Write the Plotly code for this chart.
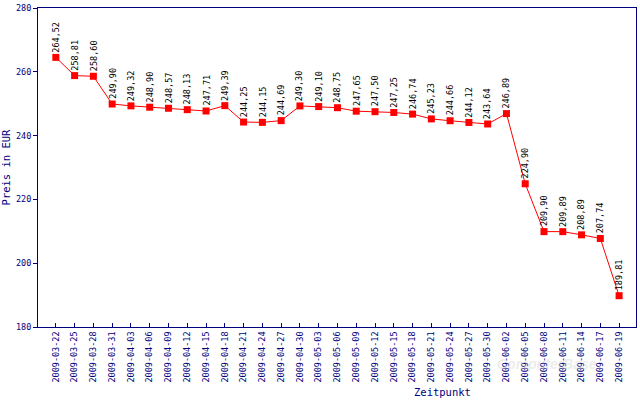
import plotly.graph_objects as go

dates = ["2009-03-22", "2009-03-25", "2009-03-28", "2009-03-31", "2009-04-03", "2009-04-06",
         "2009-04-09", "2009-04-12", "2009-04-15", "2009-04-18", "2009-04-21", "2009-04-24",
         "2009-04-27", "2009-04-30", "2009-05-03", "2009-05-06", "2009-05-09", "2009-05-12",
         "2009-05-15", "2009-05-18", "2009-05-21", "2009-05-24", "2009-05-27", "2009-05-30",
         "2009-06-02", "2009-06-05", "2009-06-08", "2009-06-11", "2009-06-14", "2009-06-17",
         "2009-06-19"]
prices = [264.52, 258.81, 258.60, 249.90, 249.32, 248.90, 248.57, 248.13, 247.71, 249.39,
          244.25, 244.15, 244.69, 249.30, 249.10, 248.75, 247.65, 247.50, 247.25, 246.74,
          245.23, 244.66, 244.12, 243.64, 246.89, 224.90, 209.90, 209.89, 208.89, 207.74,
          189.81]
y_ticks = [180, 200, 220, 240, 260, 280]

NAVY = "#000080"
MONO = "DejaVu Sans Mono"
idx = list(range(len(dates)))

fig = go.Figure()
fig.add_trace(go.Scatter(
    x=idx, y=prices, mode="lines+markers",
    line=dict(color="#ff0000", width=1),
    marker=dict(symbol="square", size=7, color="#ff0000"),
    hoverinfo="skip", showlegend=False,
))

for i, v in zip(idx, prices):
    fig.add_annotation(
        x=i, y=v, text=f"{v:.2f}".replace(".", ","), textangle=-90,
        showarrow=False, xanchor="center", yanchor="bottom", yshift=3,
        font=dict(family=MONO, size=8.5, color="black"),
    )

fig.add_annotation(
    x=(473 - 36) / 601, y=-(393 - 327) / 323, xref="paper", yref="paper",
    text="Zeitpunkt", showarrow=False, yanchor="middle",
    font=dict(family=MONO, size=10.5, color=NAVY),
)

fig.add_annotation(
    x=(600 - 36) / 601, y=-(375 - 327) / 323, xref="paper", yref="paper",
    text="<b><i>ComputerBase</i></b>", showarrow=False,
    font=dict(family="Liberation Sans", size=14, color="rgba(200,200,200,0.35)"),
)

fig.update_layout(
    width=640, height=400,
    margin=dict(l=36, r=3, t=4, b=73),
    paper_bgcolor="white", plot_bgcolor="white",
    xaxis=dict(
        range=[-0.95, 30.9], tickmode="array", tickvals=idx, ticktext=dates,
        tickangle=-90, ticks="inside", ticklen=4, tickcolor=NAVY,
        showline=True, linecolor=NAVY, linewidth=1, mirror=True,
        showgrid=False, zeroline=False,
        tickfont=dict(family=MONO, size=8.5, color=NAVY),
    ),
    yaxis=dict(
        range=[180, 280.001], tickmode="array", tickvals=y_ticks,
        ticks="outside", ticklen=4, tickcolor=NAVY, ticklabeloverflow="allow",
        showline=True, linecolor=NAVY, linewidth=1, mirror=True,
        showgrid=False, zeroline=False,
        tickfont=dict(family=MONO, size=8.5, color=NAVY),
        title=dict(text="Preis in EUR", font=dict(family=MONO, size=10.5, color=NAVY), standoff=6),
    ),
)

fig.write_html("out.html")
